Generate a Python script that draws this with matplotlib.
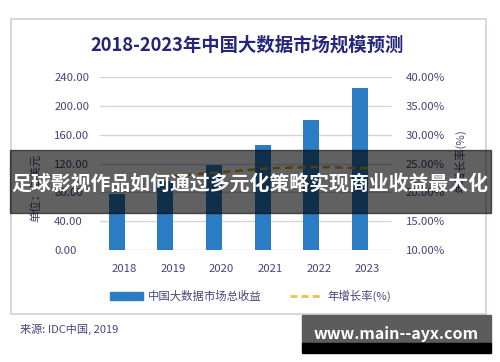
import numpy as np
import matplotlib
matplotlib.use("Agg")
import matplotlib.pyplot as plt
from matplotlib.patches import Rectangle
from matplotlib.lines import Line2D

plt.rcParams['font.family'] = ['Noto Sans CJK SC', 'DejaVu Sans']

years = ['2018', '2019', '2020', '2021', '2022', '2023']
revenue = [78, 96, 118, 146, 181, 225]          # 亿美元
growth_years = ['2019', '2020', '2021', '2022', '2023']
growth = [22.8, 23.5, 24.2, 24.4, 24.2]          # %
left_ticks = [0, 40, 80, 120, 160, 200, 240]
right_ticks = [10, 15, 20, 25, 30, 35, 40]

navy = '#25257a'
tick_col = '#45457a'
bar_col = '#2a7dc2'
line_col = '#d4aa1c'

fig = plt.figure(figsize=(5, 3.62), dpi=100)
fig.patch.set_facecolor('white')

# outer frame
fig.patches.append(Rectangle((0.022, 0.1326), 0.95, 0.815, transform=fig.transFigure,
                             fill=False, edgecolor='#d6d6e2', linewidth=1.4, zorder=0))

ax = fig.add_axes([0.2, 0.3094, 0.584, 0.4776])
ax2 = ax.twinx()

x = np.arange(len(years))
ax.bar(x - 0.16, revenue, width=0.33, color=bar_col, zorder=3)
gx = [years.index(y) for y in growth_years]
ax2.plot(gx, growth, color=line_col, linestyle=(0, (3, 2)), linewidth=1.8, zorder=4)

ax.set_xlim(-0.5, len(years) - 0.5)
ax.set_ylim(0, 240)
ax2.set_ylim(10, 40)
ax.set_yticks(left_ticks)
ax.set_yticklabels(['%.2f' % v for v in left_ticks])
ax2.set_yticks(right_ticks)
ax2.set_yticklabels(['%.2f%%' % v for v in right_ticks])
ax.set_xticks(x)
ax.set_xticklabels(years)

ax.grid(axis='y', color='#d4d4e2', linewidth=1.0, zorder=0)
for a in (ax, ax2):
    for s in a.spines.values():
        s.set_visible(False)
    a.tick_params(length=0, labelsize=8.2, colors=tick_col)
ax.tick_params(axis='y', pad=33)
ax.tick_params(axis='x', pad=10)
for t in ax.get_yticklabels():
    t.set_horizontalalignment('left')
ax2.tick_params(axis='y', pad=10)

fig.text(0.494, 0.875, '2018-2023年中国大数据市场规模预测', ha='center', va='center',
         fontsize=13.2, fontweight='bold', color=navy)
fig.text(0.074, 0.48, '单位：亿美元', rotation=90, ha='center', va='center',
         fontsize=8.2, color=tick_col)
fig.text(0.92, 0.555, '年增长率(%)', rotation=90, ha='center', va='center',
         fontsize=8.2, color=tick_col)

# legend
fig.patches.append(Rectangle((0.22, 0.172), 0.066, 0.02, transform=fig.transFigure,
                             color=bar_col))
fig.text(0.296, 0.182, '中国大数据市场总收益', ha='left', va='center', fontsize=8.2, color=tick_col)
fig.lines.append(Line2D([0.58, 0.644], [0.182, 0.182], transform=fig.transFigure,
                        color='#e8c446', linestyle=(0, (2.5, 1.5)), linewidth=2))
fig.text(0.654, 0.182, '年增长率(%)', ha='left', va='center', fontsize=8.2, color=tick_col)

fig.text(0.04, 0.09, '来源: IDC中国, 2019', ha='left', va='center', fontsize=8, color=tick_col)

# banner overlay
fig.patches.append(Rectangle((0.02, 0.4116), 0.962, 0.174, transform=fig.transFigure,
                             color='black', alpha=0.62, zorder=10))
fig.text(0.5, 0.495, '足球影视作品如何通过多元化策略实现商业收益最大化', ha='center', va='center',
         fontsize=14.3, fontweight='bold', color='white', zorder=11)

# watermark
fig.patches.append(Rectangle((0.604, 0.0525), 0.378, 0.0773, transform=fig.transFigure,
                             color='#5c5c5c', zorder=10))
fig.patches.append(Rectangle((0.604, 0.0249), 0.378, 0.0276, transform=fig.transFigure,
                             color='black', zorder=10))
fig.text(0.792, 0.078, 'www.main--ayx.com', ha='center', va='center',
         fontsize=11.5, fontweight='bold', color='white', zorder=11)

fig.savefig('out.png', dpi=100)
